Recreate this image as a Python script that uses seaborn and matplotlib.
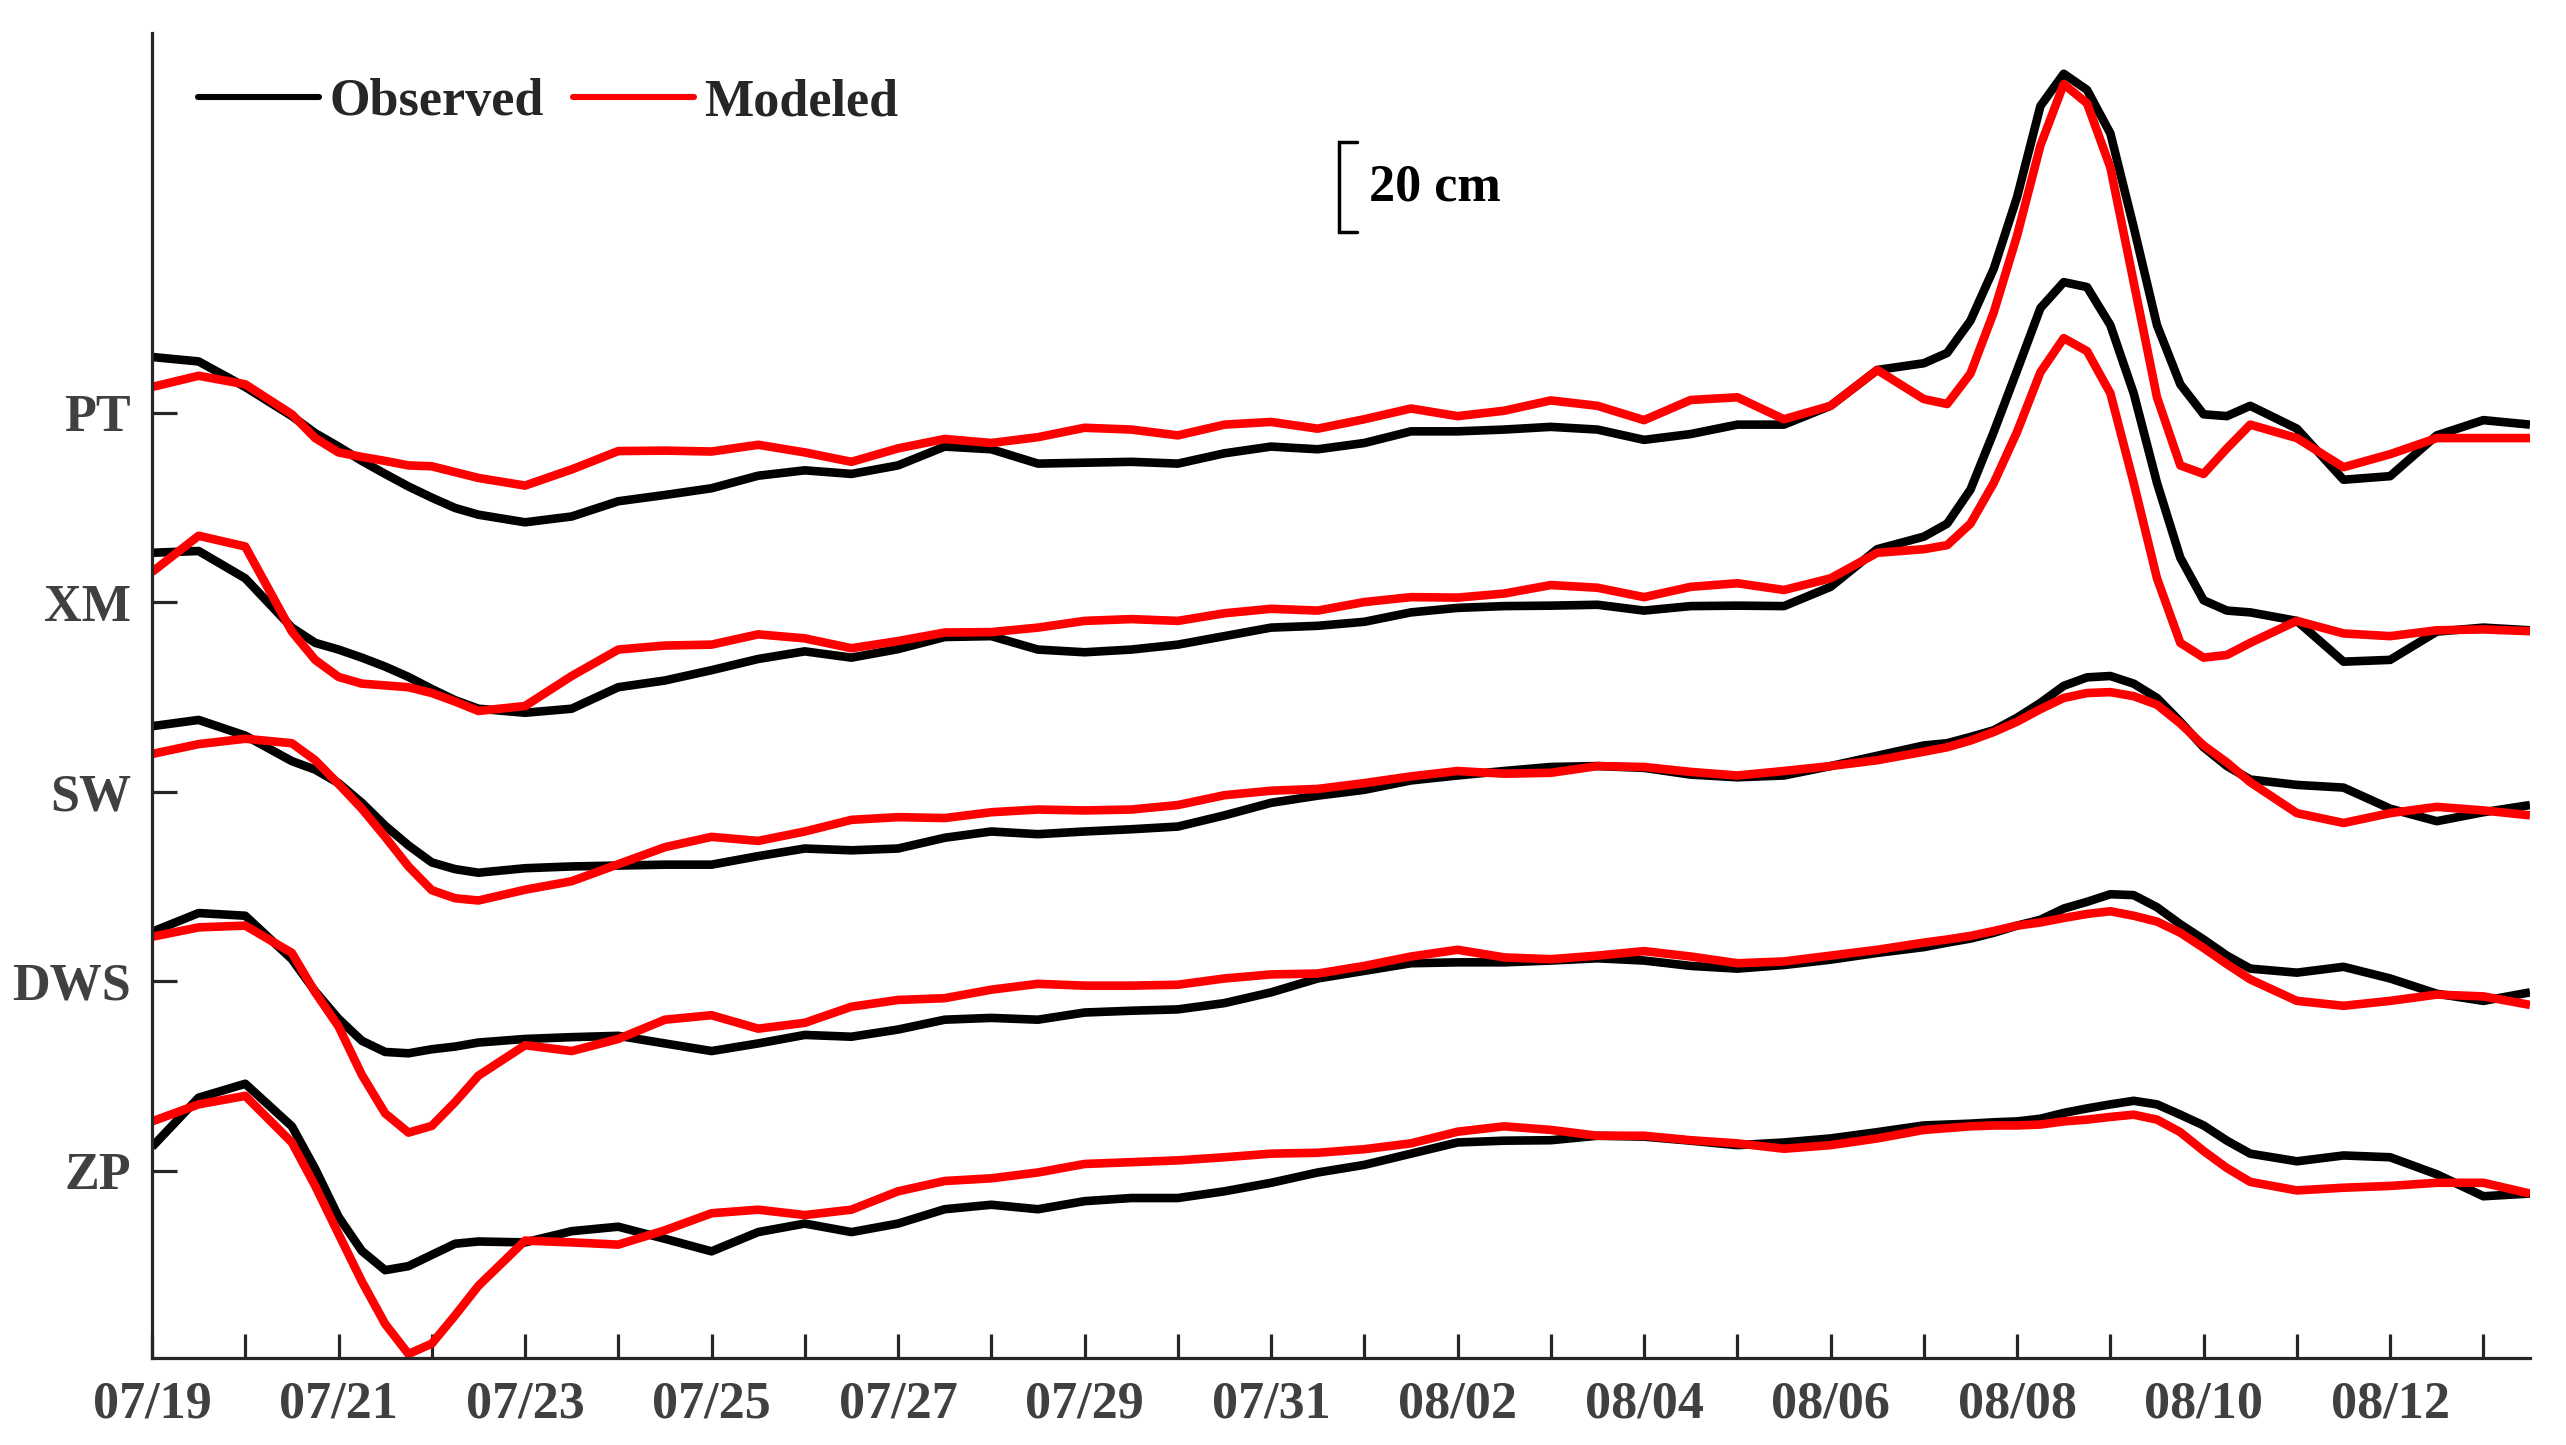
import numpy as np
import pandas as pd
import matplotlib
matplotlib.use("Agg")
import matplotlib.pyplot as plt
from matplotlib.lines import Line2D
import seaborn as sns

# ---------------- data (cm, relative to each station's baseline) ----------------
DAYS = [0, 0.5, 1, 1.5, 1.75, 2, 2.25, 2.5, 2.75, 3, 3.25, 3.5,
        4, 4.5, 5, 5.5, 6, 6.5, 7, 7.5, 8, 8.5, 9, 9.5, 10, 10.5, 11, 11.5, 12, 12.5,
        13, 13.5, 14, 14.5, 15, 15.5, 16, 16.5, 17, 17.5, 18, 18.5, 19,
        19.25, 19.5, 19.75, 20, 20.25, 20.5, 20.75, 21, 21.25, 21.5, 21.75, 22, 22.25, 22.5,
        23, 23.5, 24, 24.5, 25, 25.5]

STATIONS = ["PT", "XM", "SW", "DWS", "ZP"]

PT_OBS = [12.4, 11.4, 5.7, -0.8, -4.6, -7.6, -10.8, -13.7, -16.5, -19.0, -21.3, -22.8,
          -24.5, -23.2, -19.8, -18.4, -16.9, -14.1, -12.9, -13.7, -11.8, -7.6, -8.2, -11.4, -11.2, -11.0,
          -11.4, -9.1, -7.6, -8.2, -6.8, -4.2, -4.2, -3.8, -3.2, -3.8, -6.1, -4.8, -2.7, -2.7, 1.5, 9.5, 11.0,
          13.3, 20.5, 32.1, 48.1, 68.4, 75.6, 72.0, 62.3, 41.4, 19.5, 6.3, -0.4, -0.8, 1.5,
          -3.6, -15.0, -14.2, -5.1, -1.7, -2.7]
PT_MOD = [5.7, 8.2, 6.3, -0.4, -5.7, -8.9, -9.9, -10.8, -11.8, -12.0, -13.3, -14.6,
          -16.3, -12.7, -8.6, -8.5, -8.7, -7.2, -8.9, -11.0, -8.0, -5.9, -6.8, -5.5, -3.4, -3.8,
          -5.1, -2.7, -2.1, -3.6, -1.5, 0.9, -0.8, 0.4, 2.7, 1.5, -1.7, 2.8, 3.4, -1.5, 1.5, 9.5, 3.0,
          1.9, 8.7, 22.4, 39.5, 59.6, 73.3, 69.0, 54.7, 29.1, 3.4, -11.8, -13.7, -8.0, -2.7,
          -5.7, -12.2, -9.3, -5.7, -5.7, -5.7]
XM_OBS = [11.0, 11.4, 5.3, -5.7, -9.1, -10.6, -12.4, -14.4, -16.7, -19.4, -21.9, -23.8,
          -24.7, -23.8, -19.0, -17.5, -15.2, -12.7, -11.0, -12.4, -10.5, -7.8, -7.6, -10.6, -11.2, -10.6,
          -9.5, -7.6, -5.7, -5.3, -4.4, -2.3, -1.3, -0.9, -0.8, -0.6, -1.9, -0.9, -0.8, -0.9, 3.4, 11.8, 14.6,
          17.5, 25.1, 38.0, 51.7, 65.6, 71.4, 70.3, 61.8, 46.6, 26.6, 9.9, 0.4, -1.9, -2.3,
          -4.2, -13.3, -12.9, -6.6, -5.7, -6.3]
XM_MOD = [6.7, 14.8, 12.4, -6.6, -12.9, -16.7, -18.2, -18.6, -19.0, -20.3, -22.2, -24.3,
          -23.2, -16.5, -10.6, -9.7, -9.5, -7.2, -8.1, -10.3, -8.7, -6.8, -6.7, -5.7, -4.2, -3.8,
          -4.2, -2.5, -1.5, -1.9, 0.0, 1.1, 1.0, 1.9, 3.8, 3.2, 1.1, 3.4, 4.2, 2.7, 5.3, 11.0, 11.8,
          12.7, 17.5, 26.6, 38.0, 51.3, 58.9, 56.0, 46.6, 26.6, 5.3, -9.1, -12.4, -11.8, -9.1,
          -4.2, -7.0, -7.6, -6.3, -6.1, -6.5]
SW_OBS = [14.6, 16.0, 12.5, 6.8, 4.9, 1.9, -2.5, -7.6, -12.0, -15.8, -17.3, -18.1,
          -17.1, -16.7, -16.5, -16.3, -16.3, -14.4, -12.7, -13.1, -12.7, -10.3, -8.9, -9.5, -8.9, -8.4,
          -7.8, -5.3, -2.5, -0.9, 0.4, 2.5, 3.6, 4.6, 5.5, 5.7, 5.3, 3.8, 3.2, 3.6, 5.7, 8.0, 10.3,
          10.8, 12.2, 13.7, 16.5, 19.8, 23.6, 25.5, 25.8, 24.1, 20.9, 15.6, 9.9, 5.7, 2.7,
          1.5, 0.9, -3.8, -6.6, -4.6, -3.0]
SW_MOD = [8.4, 10.6, 11.8, 10.8, 7.0, 1.7, -3.8, -10.1, -16.7, -22.0, -23.8, -24.3,
          -21.9, -20.0, -16.2, -12.4, -10.1, -11.0, -8.9, -6.3, -5.7, -5.9, -4.6, -4.0, -4.2, -4.0,
          -3.0, -0.8, 0.2, 0.6, 1.9, 3.4, 4.6, 4.0, 4.2, 5.7, 5.5, 4.4, 3.6, 4.6, 5.7, 7.0, 8.9,
          9.9, 11.4, 13.3, 15.6, 18.4, 20.9, 22.0, 22.2, 21.3, 19.4, 15.2, 10.3, 6.5, 2.1,
          -4.8, -7.0, -4.8, -3.4, -4.2, -5.3]
DWS_OBS = [11.0, 15.2, 14.6, 4.9, -2.3, -8.4, -13.3, -15.8, -16.1, -15.2, -14.6, -13.7,
           -12.9, -12.5, -12.2, -13.9, -15.6, -13.9, -12.0, -12.4, -10.8, -8.6, -8.2, -8.6, -7.0, -6.6,
           -6.3, -4.9, -2.5, 0.6, 2.3, 4.0, 4.2, 4.2, 4.6, 5.1, 4.6, 3.4, 2.8, 3.6, 4.8, 6.3, 7.6,
           8.6, 9.5, 10.8, 12.4, 13.7, 16.2, 17.7, 19.4, 19.2, 16.5, 12.7, 9.3, 5.7, 2.8,
           1.9, 3.2, 0.6, -2.8, -4.4, -2.5]
DWS_MOD = [9.9, 12.0, 12.4, 6.3, -2.5, -10.1, -20.9, -29.5, -33.8, -32.3, -27.0, -21.1,
           -14.3, -15.6, -12.9, -8.6, -7.6, -10.6, -9.3, -5.7, -4.2, -3.8, -1.9, -0.6, -1.0, -1.0,
           -0.8, 0.6, 1.5, 1.7, 3.4, 5.5, 7.0, 5.3, 4.9, 5.7, 6.7, 5.5, 4.0, 4.4, 5.7, 7.0, 8.6,
           9.3, 10.1, 11.2, 12.4, 13.1, 14.1, 15.0, 15.6, 14.6, 13.3, 10.8, 7.4, 3.8, 0.4,
           -4.4, -5.5, -4.4, -3.0, -3.4, -5.3]
ZP_OBS = [5.3, 16.3, 19.4, 9.9, 0.4, -10.3, -17.9, -22.2, -21.3, -18.8, -16.3, -15.8,
          -16.0, -13.5, -12.5, -15.2, -18.0, -13.7, -11.8, -13.7, -11.8, -8.6, -7.6, -8.6, -6.8, -6.1,
          -6.1, -4.6, -2.7, -0.4, 1.3, 3.8, 6.3, 6.7, 6.8, 7.8, 7.6, 6.7, 5.7, 6.3, 7.2, 8.6, 10.1,
          10.3, 10.5, 10.8, 11.0, 11.6, 12.9, 13.9, 14.8, 15.6, 14.8, 12.5, 10.1, 6.7, 3.8,
          2.1, 3.4, 3.0, -0.8, -5.7, -5.1]
ZP_MOD = [11.0, 14.8, 16.7, 6.3, -3.4, -14.1, -24.7, -34.2, -40.9, -38.6, -32.3, -25.7,
          -15.6, -16.0, -16.5, -13.3, -9.5, -8.7, -9.9, -8.7, -4.6, -2.3, -1.7, -0.4, 1.5, 1.9,
          2.3, 3.0, 3.8, 4.0, 4.8, 6.1, 8.7, 9.9, 9.1, 7.8, 7.8, 6.8, 6.1, 4.9, 5.7, 7.2, 9.1,
          9.5, 9.9, 10.1, 10.1, 10.3, 11.0, 11.4, 12.0, 12.5, 11.4, 8.6, 4.4, 0.6, -2.5,
          -4.4, -3.8, -3.4, -2.7, -2.7, -5.1]

DATE_LABELS = ["07/19", "07/21", "07/23", "07/25", "07/27", "07/29", "07/31",
               "08/02", "08/04", "08/06", "08/08", "08/10", "08/12"]
SERIES_NAMES = ["Observed", "Modeled"]
SCALE_CM = 20
STEP_CM = 42.3  # vertical spacing between stations

OBS = {"PT": PT_OBS, "XM": XM_OBS, "SW": SW_OBS, "DWS": DWS_OBS, "ZP": ZP_OBS}
MOD = {"PT": PT_MOD, "XM": XM_MOD, "SW": SW_MOD, "DWS": DWS_MOD, "ZP": ZP_MOD}
OFFSETS = {s: (len(STATIONS) - 1 - i) * STEP_CM for i, s in enumerate(STATIONS)}

rows = []
for s in STATIONS:
    for src, table in (("Observed", OBS), ("Modeled", MOD)):
        for d, v in zip(DAYS, table[s]):
            rows.append({"day": d, "level": v + OFFSETS[s], "station": s, "source": src})
df = pd.DataFrame(rows)

# ---------------- figure ----------------
sns.set_theme(style="white")
axis_col = "#262626"
lab_col = "#404040"
fs = 37.5
plt.rcParams.update({
    "font.family": ["Liberation Serif", "DejaVu Serif"],
    "font.weight": "bold",
    "xtick.bottom": True, "xtick.top": False,
    "ytick.left": True, "ytick.right": False,
    "xtick.direction": "in", "ytick.direction": "in",
    "xtick.major.size": 17, "ytick.major.size": 18,
    "xtick.major.width": 2.3, "ytick.major.width": 2.3,
    "xtick.color": axis_col, "ytick.color": axis_col,
    "xtick.labelcolor": lab_col, "ytick.labelcolor": lab_col,
    "xtick.labelsize": fs, "ytick.labelsize": fs,
    "xtick.major.pad": 16, "ytick.major.pad": 15,
})

W, H = 2566, 1445
fig = plt.figure(figsize=(W / 100, H / 100), dpi=100)
ax = fig.add_axes([152 / W, 1 - 1358 / H, (2530 - 152) / W, (1358 - 33) / H])

colors = {"Observed": "#000000", "Modeled": "#ff0000"}
for src in SERIES_NAMES:
    sns.lineplot(data=df[df.source == src], x="day", y="level", units="station",
                 estimator=None, sort=False, color=colors[src], linewidth=6.2,
                 ax=ax, legend=False)
for ln in ax.get_lines():
    ln.set_solid_joinstyle("round")
    ln.set_solid_capstyle("butt")

ax.set_xlim(0, 25.5)
ax.set_ylim(-41.8, 253.9)
ax.set_xlabel("")
ax.set_ylabel("")

ax.set_xticks(np.arange(0, 26, 1))
ax.set_xticklabels([DATE_LABELS[i // 2] if i % 2 == 0 else "" for i in range(26)])
ax.set_yticks([OFFSETS[s] for s in STATIONS])
ax.set_yticklabels(STATIONS)
ax.tick_params(axis="both", which="major", direction="in", width=2.3,
               color=axis_col, bottom=True, left=True, top=False, right=False)
for lab in ax.get_xticklabels() + ax.get_yticklabels():
    lab.set_fontweight("bold")

for side in ("top", "right"):
    ax.spines[side].set_visible(False)
for side in ("left", "bottom"):
    ax.spines[side].set_color(axis_col)
    ax.spines[side].set_linewidth(2.3)

# legend
handles = [Line2D([], [], color=colors[n], linewidth=4.4) for n in SERIES_NAMES]
leg = ax.legend(handles, SERIES_NAMES, loc="center left",
                bbox_to_anchor=(198 / W, 1 - 102 / H), bbox_transform=fig.transFigure,
                frameon=False, ncol=2, handlelength=2.33, handletextpad=0.2,
                columnspacing=0.55, borderpad=0, borderaxespad=0,
                prop={"family": "Liberation Serif", "weight": "bold", "size": fs})

# scale bar "[ 20 cm"
bar_bottom = 209.5
bx0, bx1 = 12.73, 12.92
ax.plot([bx1, bx0, bx0, bx1], [bar_bottom, bar_bottom, bar_bottom + SCALE_CM, bar_bottom + SCALE_CM],
        color="black", linewidth=2.5, solid_joinstyle="miter", clip_on=False)
ax.text(13.05, bar_bottom + SCALE_CM / 2, f"{SCALE_CM} cm", ha="left", va="center",
        fontsize=fs, fontweight="bold", color="black")

fig.savefig("out.png", dpi=100)
